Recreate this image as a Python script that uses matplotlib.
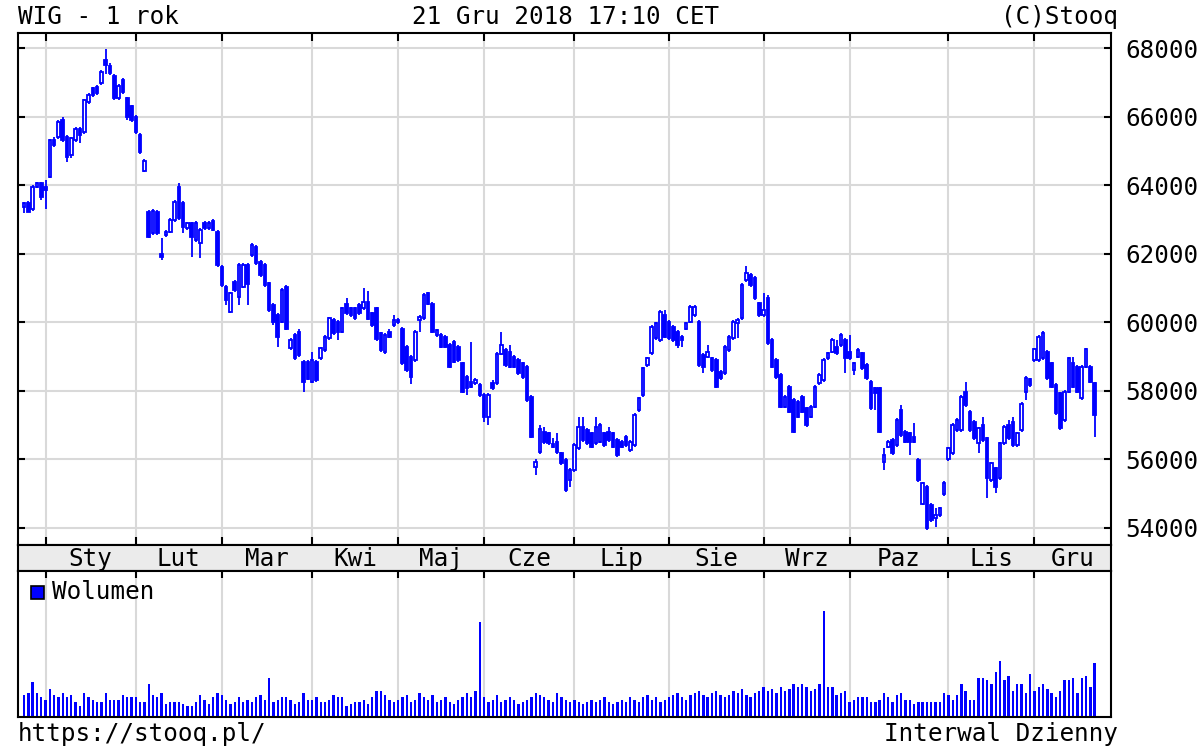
import numpy as np
import matplotlib
matplotlib.use("Agg")
import matplotlib.pyplot as plt
from matplotlib.patches import Rectangle

plt.rcParams['font.family'] = ['DejaVu Sans Mono']

# trading days per month: Dec 2017 tail, Jan..Nov 2018, Dec 2018 up to the 21st
month_names = ['Sty', 'Lut', 'Mar', 'Kwi', 'Maj', 'Cze', 'Lip', 'Sie', 'Wrz', 'Paz', 'Lis', 'Gru']
month_days = [5, 21, 20, 21, 20, 20, 21, 22, 22, 20, 23, 20, 15]
price_ticks = [54000, 56000, 58000, 60000, 62000, 64000, 66000, 68000]

opens = [
    63370, 63470, 63300, 63950, 64050,
    63950, 64240, 65320, 65410, 65900, 65400, 64870, 65310, 65650, 65560, 66430, 66820, 66870, 66970, 67650, 67475, 67180, 66530, 67060, 66530, 66300,
    66000, 65460, 64420, 63220, 62590, 63220, 61990, 62540, 62640, 62980, 63950, 63470, 62740, 62880, 62400, 62300, 62900, 62750, 62950, 62640,
    61620, 61030, 60300, 61180, 60740, 61030, 61680, 61950, 62200, 61760, 61660, 61130, 60500, 60200, 60010, 61030, 59230, 59620, 59720, 58840, 58840,
    58260, 58840, 58940, 59180, 59520, 60060, 60010, 59720, 60540, 60400, 60400, 60500, 60400, 60600, 60250, 60400, 59670, 59130, 59720, 59910,
    60000, 59810, 59280, 58990, 58890, 60060, 60110, 60840, 60540, 59620, 59620, 59570, 59330, 59420, 59280, 58790, 58400, 58250, 58210, 58160,
    57870, 57240, 58210, 58210, 59080, 59180, 59130, 58990, 58890, 58790, 58690, 57820, 55760, 56200, 56800, 56750, 56450, 56500, 56170, 55970, 55385,
    55680, 56310, 56940, 56850, 56750, 56460, 56510, 56750, 56800, 56750, 56550, 56510, 56650, 56260, 56410, 57430, 57870, 58740, 59090, 59520, 59470, 60200,
    60010, 59860, 59720, 59570, 59810, 60010, 60200, 60010, 59040, 58990, 58940, 58890, 58550, 58500, 59180, 59520, 59960, 60110, 61230, 61370, 61280, 60550,
    60200, 60690, 59470, 58890, 58450, 57530, 58110, 57720, 57670, 57820, 57480, 57240, 57530, 58210, 58310, 58940, 59130, 59280, 59330, 59470,
    59130, 58600, 58990, 59090, 58740, 58260, 58060, 58060, 55920, 56360, 56550, 56410, 57430, 56800, 56750, 56650, 55970, 54700, 55190, 54660, 54270, 54360, 54980,
    55990, 56170, 56850, 56850, 57970, 57380, 57090, 56460, 56990, 56600, 55390, 55730, 55440, 56460, 56990, 57090, 56410, 56850, 57970, 58330,
    58890, 58890, 58940, 59130, 58790, 58160, 57920, 57140, 57970, 58790, 58700, 57770, 58700, 58700, 58210,
]

highs = [
    63500, 63520, 64000, 64100, 64100,
    64150, 65350, 65400, 65900, 65980, 65450, 65400, 65700, 65700, 66520, 66680, 66870, 66920, 67350, 67960, 67550, 67230, 66950, 67120, 66580, 66350,
    66060, 65520, 64760, 63260, 63300, 63270, 62440, 62690, 63030, 63560, 64070, 63520, 62930, 62930, 62950, 62740, 62950, 62950, 63000, 62690,
    61670, 61080, 60890, 61230, 61710, 61730, 61730, 62300, 62250, 61810, 61710, 61180, 60550, 60250, 60980, 61080, 59520, 59670, 59810, 58890, 58890,
    59130, 58890, 59280, 59620, 60160, 60110, 60060, 60450, 60690, 60450, 60450, 60550, 61000, 60900, 60300, 60450, 59720, 59670, 59810, 60200,
    60110, 59860, 59330, 59040, 59770, 60200, 60850, 60890, 60590, 59810, 59670, 59620, 59380, 59470, 59330, 58840, 58450, 59420, 58360, 58210,
    57920, 57920, 58300, 59130, 59720, 59230, 59330, 59040, 58940, 58840, 58740, 57870, 56000, 56990, 56950, 56800, 56600, 56750, 56220, 56020, 55730,
    56460, 57240, 57240, 56900, 56800, 57240, 57040, 56800, 56940, 56800, 56600, 56560, 56700, 56560, 57330, 57820, 58700, 58990, 59910, 60010, 60350, 60350,
    60060, 59910, 59770, 59620, 60010, 60500, 60500, 60060, 59090, 59330, 58990, 58940, 58600, 59330, 59620, 60060, 60110, 61130, 61640, 61420, 61330, 60600,
    60840, 60790, 59520, 58940, 58500, 57870, 58160, 57770, 57720, 57870, 57530, 57580, 58160, 58500, 58940, 59130, 59520, 59470, 59670, 59520,
    59620, 58840, 59230, 59130, 58790, 58310, 58110, 58110, 56310, 56550, 56600, 57190, 57580, 56850, 56800, 57040, 56020, 55340, 55240, 54710, 54560, 54610, 55360,
    56360, 57040, 57190, 57870, 58260, 57430, 57140, 56940, 57240, 56650, 55920, 55780, 56510, 56990, 57140, 57240, 56800, 57670, 58430, 58380,
    59250, 59620, 59740, 59180, 58840, 58210, 57970, 58010, 58990, 58990, 58750, 58740, 59250, 58750, 58260,
]

lows = [
    63170, 63200, 63250, 63900, 63550,
    63290, 64200, 65100, 65350, 65250, 64680, 64780, 65250, 65220, 65500, 66380, 66580, 66640, 66930, 67250, 67200, 66480, 66480, 66650, 65900, 65850,
    65500, 64920, 64370, 62450, 62540, 62540, 61810, 62490, 62590, 62930, 62980, 62600, 62690, 61900, 62350, 61860, 62700, 62700, 62650, 61620,
    61030, 60500, 60250, 60880, 60500, 60980, 60500, 61900, 61660, 61320, 61030, 60300, 59910, 59280, 59960, 59760, 59180, 58890, 58990, 57970, 58300,
    58210, 58250, 58890, 59130, 59470, 59620, 59470, 59670, 60200, 60150, 60060, 60200, 60350, 60050, 59860, 59450, 59130, 59080, 59520, 59860,
    59950, 58740, 58550, 58200, 58840, 59720, 60060, 60490, 59670, 59570, 59230, 59230, 58650, 58790, 58840, 57920, 57860, 58060, 58160, 57820,
    57090, 56990, 58010, 58160, 59030, 58690, 58650, 58650, 58450, 58350, 57670, 56600, 55530, 56150, 56450, 56410, 56310, 56160, 55820, 55050, 55190,
    55630, 56260, 56500, 56410, 56310, 56410, 56460, 56360, 56500, 56310, 56070, 56310, 56360, 56210, 56360, 57380, 57820, 58690, 59040, 59470, 59420, 59520,
    59470, 59420, 59230, 59280, 59760, 59960, 60150, 58700, 58500, 58940, 58550, 58060, 58300, 58450, 59130, 59470, 59520, 60060, 61180, 61030, 60640, 60150,
    60150, 59330, 58650, 58350, 57480, 57480, 57330, 56750, 57190, 57330, 56940, 57190, 57480, 58160, 58260, 58890, 59090, 59040, 59280, 58500,
    58890, 58450, 58940, 58600, 58300, 57430, 57430, 56750, 55680, 56310, 56120, 56360, 56650, 56460, 56120, 56460, 55340, 54650, 53930, 54170, 54020, 54310, 54930,
    55940, 56120, 56800, 56800, 57530, 56800, 56550, 56170, 56510, 54850, 55340, 55000, 55390, 56410, 56550, 56360, 56360, 56800, 57720, 58110,
    58840, 58840, 58890, 58300, 58060, 57280, 56850, 57090, 57920, 58060, 57920, 57720, 58650, 58210, 56650,
]

closes = [
    63490, 63220, 63950, 64060, 63660,
    63850, 65310, 65170, 65850, 65310, 64830, 65360, 65650, 65460, 66480, 66620, 66630, 66680, 67310, 67500, 67260, 66530, 66900, 66720, 65990, 65900,
    65560, 64970, 64710, 62490, 63250, 62590, 61900, 62640, 62980, 63510, 63030, 62780, 62880, 62490, 62900, 62690, 62750, 62900, 62700, 61670,
    61080, 60640, 60840, 60930, 61660, 61680, 61100, 62250, 61710, 61370, 61080, 60350, 60010, 59570, 60930, 59810, 59470, 58940, 59040, 58260, 58350,
    58890, 58300, 59230, 59570, 60110, 59670, 59720, 60400, 60250, 60200, 60110, 60250, 60600, 60100, 59910, 59500, 59180, 59620, 59570, 60060,
    60060, 58790, 58600, 58400, 59720, 60150, 60790, 60540, 59720, 59760, 59280, 59280, 58700, 58840, 58890, 57970, 58060, 58110, 58310, 57870,
    57240, 57870, 58060, 59080, 59330, 58740, 58700, 58700, 58500, 58400, 57720, 56650, 55910, 56890, 56500, 56460, 56360, 56210, 55870, 55100, 55680,
    56410, 56940, 56550, 56460, 56360, 56940, 56990, 56410, 56550, 56360, 56120, 56360, 56410, 56510, 57280, 57770, 58650, 58940, 59860, 59960, 60300, 59570,
    59520, 59470, 59330, 59470, 59960, 60450, 60450, 58740, 58700, 59130, 58600, 58110, 58360, 59280, 59570, 60010, 60060, 61080, 61420, 61080, 60690, 60200,
    60350, 59380, 58700, 58400, 57530, 57820, 57380, 56800, 57240, 57380, 56990, 57530, 58110, 58450, 58890, 59090, 59470, 59090, 59620, 58940,
    58940, 58790, 59180, 58650, 58360, 57480, 57920, 56800, 56110, 56510, 56170, 57140, 56700, 56510, 56510, 56510, 55390, 55290, 53980, 54220, 54360, 54560, 55310,
    56310, 56990, 57140, 57820, 57580, 56850, 56600, 56900, 56550, 55440, 55870, 55190, 56460, 56940, 56600, 56410, 56750, 57620, 58380, 58160,
    59200, 59570, 59690, 58360, 58110, 57330, 56900, 57970, 58940, 58110, 57970, 58700, 59200, 58260, 57280,
]

# volume, arbitrary units (no scale shown on the chart)
volumes = [
    22, 24, 35, 24, 20, 17, 28, 22, 20, 24, 20, 22, 15, 11, 24, 20, 17, 15, 15, 24,
    17, 17, 17, 22, 20, 20, 20, 15, 15, 33, 22, 20, 24, 13, 15, 15, 15, 13, 11, 11,
    15, 22, 17, 13, 20, 24, 22, 17, 13, 15, 20, 15, 17, 15, 20, 22, 17, 39, 15, 17,
    20, 20, 17, 13, 15, 24, 17, 17, 20, 15, 15, 17, 22, 20, 20, 11, 13, 15, 15, 17,
    13, 20, 26, 26, 22, 17, 15,
    17, 20, 22, 15, 17, 24, 20, 17, 22, 15, 17, 20, 15, 13, 17, 20, 24, 20, 26,
    95,
    20, 15, 17, 22, 15, 17, 20, 17, 13, 15, 17, 20, 24, 22, 20, 17, 15, 24, 20, 17, 15, 17,
    15, 13, 15, 17, 15, 17, 20, 15, 13, 15, 17, 15, 20, 17, 15, 20, 22, 17, 20, 15, 17, 20,
    22, 24, 20, 17, 22, 24, 26, 22, 20, 24, 26, 22, 20, 22, 26, 24, 28, 22, 20, 24,
    26, 30, 26, 28, 24, 30, 26, 28, 33, 30,
    33, 30, 26, 28, 33, 106, 30, 30, 22, 24, 26, 15, 17, 20, 20, 20, 15, 15, 17, 24,
    20, 15, 22, 24, 17, 17, 13, 15, 15, 15, 15, 15, 15, 24, 22, 17, 22, 33, 26, 17,
    17, 39, 39, 37, 33, 45, 56, 37, 41, 26, 33, 33, 24, 43, 26, 30, 33, 28, 24, 20,
    26, 37, 37, 39, 24, 39, 41, 30, 54,
]

BLUE = '#0000ff'
GRID = '#d9d9d9'
FS = 17.5

o = np.array(opens, dtype=float)
h = np.array(highs, dtype=float)
l = np.array(lows, dtype=float)
c = np.array(closes, dtype=float)
x = np.arange(len(c))

starts = np.cumsum(month_days)[:-1]          # first trading day of Jan..Dec
x_left, x_right = -1.4, 252.8
ends = np.append(starts[1:], x_right)
label_pos = (starts + ends) / 2

W, H = 1200, 750
fig = plt.figure(figsize=(12, 7.5), dpi=100)


def box(x0, y0, x1, y1):
    # pixel box (top-left origin) -> figure fraction rect
    return [x0 / W, 1 - y1 / H, (x1 - x0) / W, (y1 - y0) / H]


ax = fig.add_axes(box(18, 33, 1111, 545))
band = fig.add_axes(box(18, 545, 1111, 571))
axv = fig.add_axes(box(18, 571, 1111, 717))

# price panel
ax.set_axisbelow(True)
ax.vlines(x, l, h, color=BLUE, lw=1.3, zorder=2)
up = c >= o
ax.bar(x[up], c[up] - o[up], bottom=o[up], width=0.6, facecolor='white',
       edgecolor=BLUE, lw=1.3, zorder=3)
ax.bar(x[~up], o[~up] - c[~up], bottom=c[~up], width=0.6, facecolor=BLUE,
       edgecolor=BLUE, lw=1.3, zorder=3)
ax.set_xlim(x_left, x_right)
ax.set_ylim(53490, 68440)
ax.set_yticks(price_ticks)
ax.set_yticklabels([str(t) for t in price_ticks])
ax.set_xticks(starts)
ax.grid(True, color=GRID, lw=1.5)
ax.tick_params(axis='y', left=True, right=True, labelleft=False, labelright=True,
               direction='in', length=5, width=1.5, labelsize=FS, pad=10)
ax.tick_params(axis='x', top=True, bottom=True, labelbottom=False,
               direction='in', length=6, width=1.5)

# month band
band.set_facecolor('#ebebeb')
band.set_xlim(x_left, x_right)
band.set_ylim(0, 1)
band.set_xticks([])
band.set_yticks([])
for name, pos in zip(month_names, label_pos):
    band.text(pos, 0.45, name, ha='center', va='center', fontsize=FS)

# volume panel
axv.set_axisbelow(True)
axv.bar(x, volumes, width=0.55, color=BLUE, lw=0, zorder=2)
axv.set_xlim(x_left, x_right)
axv.set_ylim(-0.5, 146)
axv.set_xticks(starts)
axv.set_yticks([])
axv.grid(True, axis='x', color=GRID, lw=1.5)
axv.tick_params(axis='x', top=True, bottom=False, labelbottom=False,
                direction='in', length=5, width=1.5)

for a in (ax, band, axv):
    for s in a.spines.values():
        s.set_linewidth(1.5)

# legend for volume
fig.patches.append(Rectangle((31 / W, 1 - 599 / H), 13 / W, 13 / H, transform=fig.transFigure,
                             facecolor=BLUE, edgecolor='black', lw=1.2))
fig.text(52 / W, 1 - 592 / H, 'Wolumen', fontsize=FS, va='center', ha='left')

# header / footer
fig.text(18 / W, 1 - 24 / H, 'WIG - 1 rok', fontsize=FS, va='baseline', ha='left')
fig.text(566 / W, 1 - 24 / H, '21 Gru 2018 17:10 CET', fontsize=FS, va='baseline', ha='center')
fig.text(1118 / W, 1 - 24 / H, '(C)Stooq', fontsize=FS, va='baseline', ha='right')
fig.text(18 / W, 1 - 741 / H, 'https://stooq.pl/', fontsize=FS, va='baseline', ha='left')
fig.text(1118 / W, 1 - 741 / H, 'Interwal Dzienny', fontsize=FS, va='baseline', ha='right')

fig.savefig('out.png', dpi=100, facecolor='white')
